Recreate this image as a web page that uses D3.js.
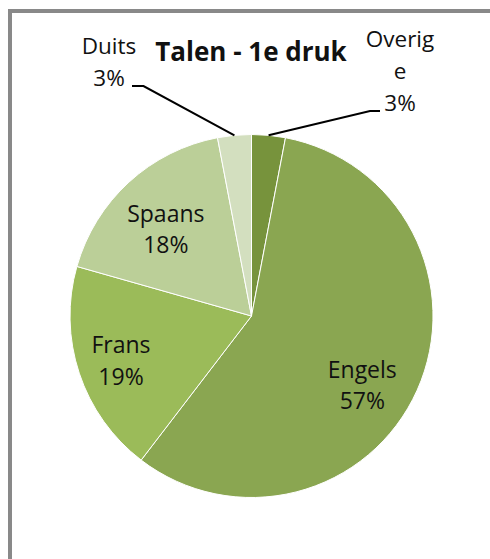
<!doctype html>
<html lang="nl">
<head>
<meta charset="utf-8">
<title>Talen - 1e druk</title>
<script src="https://d3js.org/d3.v7.min.js"></script>
<style>
  body { margin: 0; background: #fff; }
  text { font-family: "Open Sans", Lato, sans-serif; fill: #111; }
</style>
</head>
<body>
<svg id="chart" width="490" height="559"></svg>
<script>
// chart data, clockwise from 12 o'clock
var languages = ["Overige", "Engels", "Frans", "Spaans", "Duits"];
var shares = [3.0, 57.4, 19.0, 17.6, 3.0];
var labelLines = [["Overig", "e"], ["Engels"], ["Frans"], ["Spaans"], ["Duits"]];
var sliceColors = ["#77933c", "#8aa651", "#9bbb59", "#bbcf98", "#d3dfbf"];
var title = "Talen - 1e druk";

var svg = d3.select("#chart"),
    width = +svg.attr("width"),
    height = +svg.attr("height");

// outer frame (runs off the bottom/right of the window)
svg.append("rect")
   .attr("x", 10).attr("y", 11)
   .attr("width", width + 20).attr("height", height + 20)
   .attr("fill", "#fff")
   .attr("stroke", "#898989")
   .attr("stroke-width", 4);

svg.append("text")
   .attr("x", 251).attr("y", 60.5)
   .attr("text-anchor", "middle")
   .style("font-weight", "bold")
   .style("font-size", "26px")
   .text(title);

var cx = 251.5, cy = 316, r = 181.5;

var pie = d3.pie().sort(null).value(function(d) { return d; });
var arcs = pie(shares);
var total = d3.sum(shares);

var arc = d3.arc().innerRadius(0).outerRadius(r);

var g = svg.append("g")
   .attr("transform", "translate(" + cx + "," + cy + ")");

g.selectAll("path")
   .data(arcs)
   .enter().append("path")
   .attr("d", arc)
   .attr("fill", function(d, i) { return sliceColors[i]; })
   .attr("stroke", "#fff")
   .attr("stroke-width", 1);

function pct(v) { return Math.round(v / total * 100) + "%"; }

// point on the pie for an angle and radius
function pt(a, rad) {
   return [cx + rad * Math.sin(a), cy - rad * Math.cos(a)];
}

// inside labels: radius factor and angle nudge to match the original placement
var inside = { "Engels": [0.72, 0.138], "Frans": [0.76, -0.01], "Spaans": [0.67, -0.04] };
var lineH = 31.5;

arcs.forEach(function(d, i) {
   var name = languages[i];
   var mid = (d.startAngle + d.endAngle) / 2;
   var lines = labelLines[i].concat([pct(d.value)]);
   if (inside[name]) {
      var p = pt(mid + inside[name][1], inside[name][0] * r);
      var t = svg.append("text")
         .attr("text-anchor", "middle")
         .style("font-size", "23px");
      lines.forEach(function(s, k) {
         t.append("tspan").attr("x", p[0])
          .attr("y", p[1] + 8 + (k - (lines.length - 1) / 2) * lineH)
          .text(s);
      });
   } else {
      // outside labels with leader lines
      var edge = pt(mid, r);
      var left = Math.sin(mid) < 0;
      var elbow = left ? [cx - 108, 86] : [cx + 118.5, 111];
      var end = [elbow[0] + (left ? -11.5 : 10), elbow[1]];
      svg.append("path")
         .attr("d", d3.line()([edge, elbow, end]))
         .attr("fill", "none")
         .attr("stroke", "#000")
         .attr("stroke-width", 2);
      var lx = left ? end[0] - 23 : end[0] + 20;
      var t2 = svg.append("text")
         .attr("text-anchor", "middle")
         .style("font-size", "22.5px");
      lines.forEach(function(s, k) {
         t2.append("tspan").attr("x", lx)
           .attr("y", end[1] - 0.5 - (lines.length - 1 - k) * (left ? 31.5 : 32))
           .text(s);
      });
   }
});
</script>
</body>
</html>
